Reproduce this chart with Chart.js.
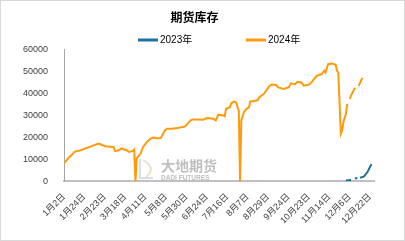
<!DOCTYPE html>
<html>
<head>
<meta charset="utf-8">
<script src="https://cdn.jsdelivr.net/npm/chart.js@4"></script>
<style>
  html, body { margin: 0; padding: 0; background: #fff; }
  #wrap { width: 403px; height: 239px; border: 1px solid #d9d9d9; position: relative; }
</style>
</head>
<body>
<div id="wrap"><canvas id="c"></canvas></div>
<script>
// ── Data (trading-day index, stock) ──
const TICK_LABELS = ['1月2日','1月24日','2月23日','3月18日','4月11日','5月8日','5月30日','6月24日',
    '7月16日','8月7日','8月29日','9月24日','10月23日','11月14日','12月6日','12月22日'];
const TICK_STEP = 16;

const DAYS_2024 = [0,4,6,8,10,13,20,27,28,32,38,39,40,43,45,49,51,54,55,56,57,60,62,65,68,70,73,76,79,81,
    85,90,95,99,101,105,109,112,117,119,121,125,126,127,130,131,133,135,136,137,138,139,141,143,145,146,
    150,152,153,157,161,163,166,168,172,176,178,181,183,186,188,192,194,198,202,204,205,207,210,213,214,
    215,217,218,219,221,222,223,224,225,227,228,229,231,233,234];
const STOCK_2024 = [8200,11000,12000,13400,13800,14200,15700,17200,17000,16000,15700,15500,13800,14200,15000,
    14200,13400,13900,14500,0,10500,12700,15700,18000,19500,20000,19500,19800,23200,24000,
    24000,24400,25000,27700,28200,28200,28000,28800,28500,27700,30400,30000,29600,33000,33700,35500,36300,
    36000,33700,32200,0,27700,31500,33000,33700,36300,
    36700,37000,38200,40000,43400,44000,43800,42700,42000,42700,44600,44200,45300,45000,43500,44000,
    45000,48000,48800,50300,49500,53300,53600,53000,50300,
    49500,21700,23200,27000,30800,35300,null,37500,39000,41300,42500,null,43400,46100,47000];

const DAYS_2023 = [221,225,226,228,230,231,232,235,238,241];
const STOCK_2023 = [400,700,null,1400,1600,null,1700,2200,4400,7900];

const SERIES = [
    { label: '2023年', days: DAYS_2023, values: STOCK_2023, color: '#1f6fa3' },
    { label: '2024年', days: DAYS_2024, values: STOCK_2024, color: '#ff9a0a' }
];

const FONT = "'Liberation Sans', 'Noto Sans CJK SC', sans-serif";

// ── Legend drawn by hand (wide gap between items) ──
const legendPlugin = {
    id: 'lineLegend',
    afterDraw(chart) {
        const ctx = chart.ctx;
        const xs = [137, 245];
        ctx.save();
        ctx.font = '10px ' + FONT;
        ctx.textBaseline = 'middle';
        SERIES.forEach((s, i) => {
            ctx.strokeStyle = s.color;
            ctx.lineWidth = 3;
            ctx.beginPath();
            ctx.moveTo(xs[i], 39);
            ctx.lineTo(xs[i] + 20, 39);
            ctx.stroke();
            ctx.fillStyle = '#000';
            ctx.fillText(s.label, xs[i] + 22, 39.5);
        });
        ctx.restore();
    }
};

// ── Watermark ──
const watermark = {
    id: 'watermark',
    beforeDatasetsDraw(chart) {
        const ctx = chart.ctx;
        ctx.save();
        ctx.globalAlpha = 0.55;
        ctx.strokeStyle = '#b9c3d6';
        ctx.lineWidth = 2;
        ctx.beginPath();
        ctx.moveTo(139, 158); ctx.lineTo(139, 177); ctx.lineTo(152, 177);
        ctx.stroke();
        ctx.strokeStyle = '#d8c7a8';
        ctx.beginPath();
        ctx.moveTo(142, 159); ctx.quadraticCurveTo(156, 167, 145, 176);
        ctx.stroke();
        ctx.fillStyle = '#8a8a8a';
        ctx.font = 'bold 14px ' + FONT;
        ctx.textBaseline = 'alphabetic';
        ctx.fillText('大地期货', 160, 170);
        ctx.font = 'bold 6.5px ' + FONT;
        ctx.fillText('DADI FUTURES', 160, 178.5);
        ctx.restore();
    }
};

new Chart(document.getElementById('c'), {
    type: 'line',
    data: {
        datasets: SERIES.map(s => ({
            label: s.label,
            data: s.days.map((d, i) => ({ x: d, y: s.values[i] })),
            borderColor: s.color,
            backgroundColor: s.color,
            borderWidth: 2,
            pointRadius: 0,
            tension: 0,
            spanGaps: false
        }))
    },
    options: {
        responsive: true, maintainAspectRatio: false, animation: false,
        layout: { padding: { left: 14, right: 30, top: 0, bottom: 12 } },
        plugins: {
            legend: { display: false },
            tooltip: { enabled: false },
            title: {
                display: true, text: '期货库存', color: '#000',
                font: { family: FONT, size: 12, weight: 'bold' },
                padding: { top: 10, bottom: 24 }
            }
        },
        scales: {
            x: {
                type: 'linear', min: 0, max: 243,
                afterBuildTicks: axis => {
                    axis.ticks = TICK_LABELS.map((_, i) => ({ value: i * TICK_STEP }));
                },
                ticks: {
                    autoSkip: false, maxRotation: 45, minRotation: 45, padding: 2,
                    color: '#404040', font: { family: FONT, size: 9 },
                    callback: (v, i) => TICK_LABELS[i]
                },
                grid: { display: false },
                border: { color: '#c0c0c0', width: 2 }
            },
            y: {
                min: 0, max: 60000,
                ticks: {
                    stepSize: 10000, padding: 8, color: '#404040', font: { family: FONT, size: 9 },
                    callback: v => String(v)
                },
                grid: { display: false },
                border: { color: '#a6a6a6', width: 1 }
            }
        }
    },
    plugins: [watermark, legendPlugin]
});
</script>
</body>
</html>
